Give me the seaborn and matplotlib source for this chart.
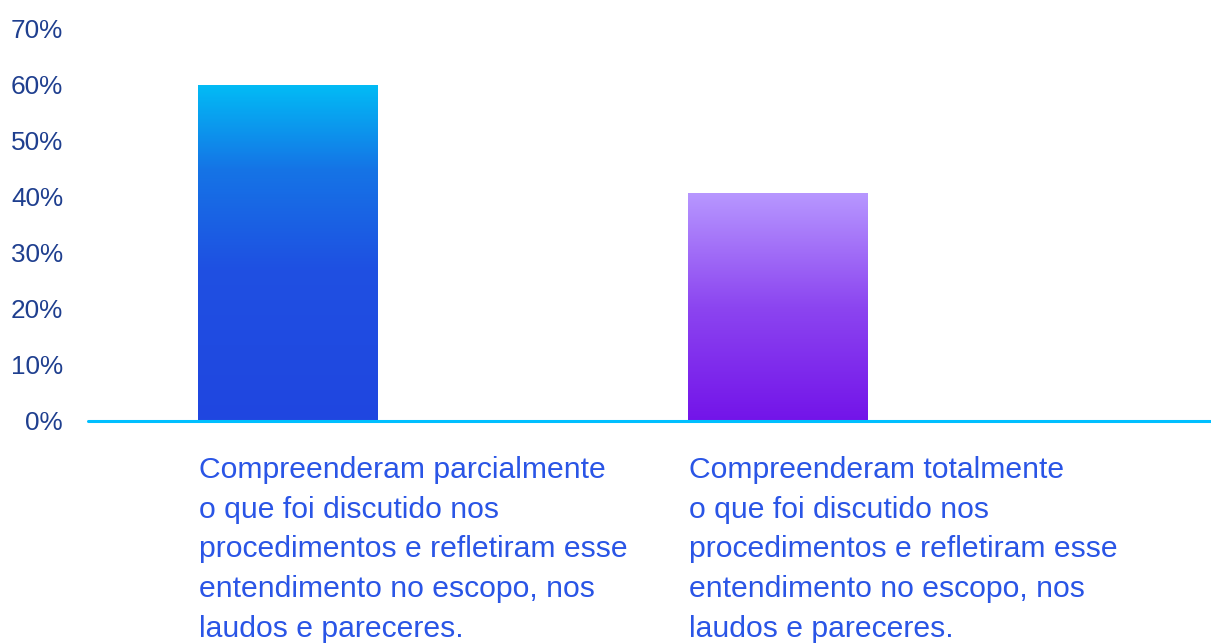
import numpy as np
import pandas as pd
import matplotlib
matplotlib.use("Agg")
import matplotlib.pyplot as plt
from matplotlib.colors import LinearSegmentedColormap
import seaborn as sns

categories = [
    "Compreenderam parcialmente\no que foi discutido nos\nprocedimentos e refletiram esse\nentendimento no escopo, nos\nlaudos e pareceres.",
    "Compreenderam totalmente\no que foi discutido nos\nprocedimentos e refletiram esse\nentendimento no escopo, nos\nlaudos e pareceres.",
]
values = [60.0, 40.7]
y_ticks = [0, 10, 20, 30, 40, 50, 60, 70]
y_tick_labels = ["0%", "10%", "20%", "30%", "40%", "50%", "60%", "70%"]

# gradient stops per bar, bottom -> top
gradients = [
    [(0.0, "#2046E0"), (0.45, "#1F50E2"), (0.75, "#1574E6"), (1.0, "#02BBF5")],
    [(0.0, "#7314E9"), (0.5, "#8C45F0"), (1.0, "#B797FF")],
]

sns.set_theme(style="white")
plt.rcParams["font.family"] = ["Liberation Sans", "DejaVu Sans"]

df = pd.DataFrame({"cat": ["a", "b"], "val": values})

fig = plt.figure(figsize=(12.11, 6.43), dpi=100)
ax = fig.add_axes([88 / 1211, (643 - 421) / 643, 1 - 88 / 1211, (421 - 29) / 643])

sns.barplot(data=df, x="cat", y="val", ax=ax, width=0.367, color="#2046E0", saturation=1)

ax.set_xlim(-0.408, 1.884)
ax.set_ylim(0, 70)
ax.set_yticks(y_ticks)
ax.set_yticklabels(y_tick_labels, color="#1F3F8F", fontsize=18.8)
ax.tick_params(axis="y", length=0, pad=18)
ax.set_xticks([])
ax.set_xlabel("")
ax.set_ylabel("")
for s in ax.spines.values():
    s.set_visible(False)

# replace flat fills with vertical gradients clipped to each bar
grad = np.linspace(0, 1, 256).reshape(-1, 1)
for patch, stops in zip(ax.patches, gradients):
    x0, y0 = patch.get_x(), patch.get_y()
    w, h = patch.get_width(), patch.get_height()
    cmap = LinearSegmentedColormap.from_list("g", stops)
    im = ax.imshow(grad, cmap=cmap, origin="lower", aspect="auto",
                   extent=[x0, x0 + w, y0, y0 + h], zorder=2)
    im.set_clip_path(patch)
    patch.set_facecolor("none")
    patch.set_edgecolor("none")

ax.set_xlim(-0.408, 1.884)
ax.set_ylim(0, 70)

ax.axhline(0, color="#00BFFF", lw=2.2, zorder=3, clip_on=False)

# category captions under each bar, left-aligned with the bar edge
for patch, label in zip(ax.patches, categories):
    ax.annotate(label, xy=(patch.get_x(), 0), xycoords="data",
                xytext=(1, -25), textcoords="offset points",
                ha="left", va="top", fontsize=21.7, color="#2A55E6",
                linespacing=1.54, annotation_clip=False)

fig.savefig("out.png", dpi=100)
